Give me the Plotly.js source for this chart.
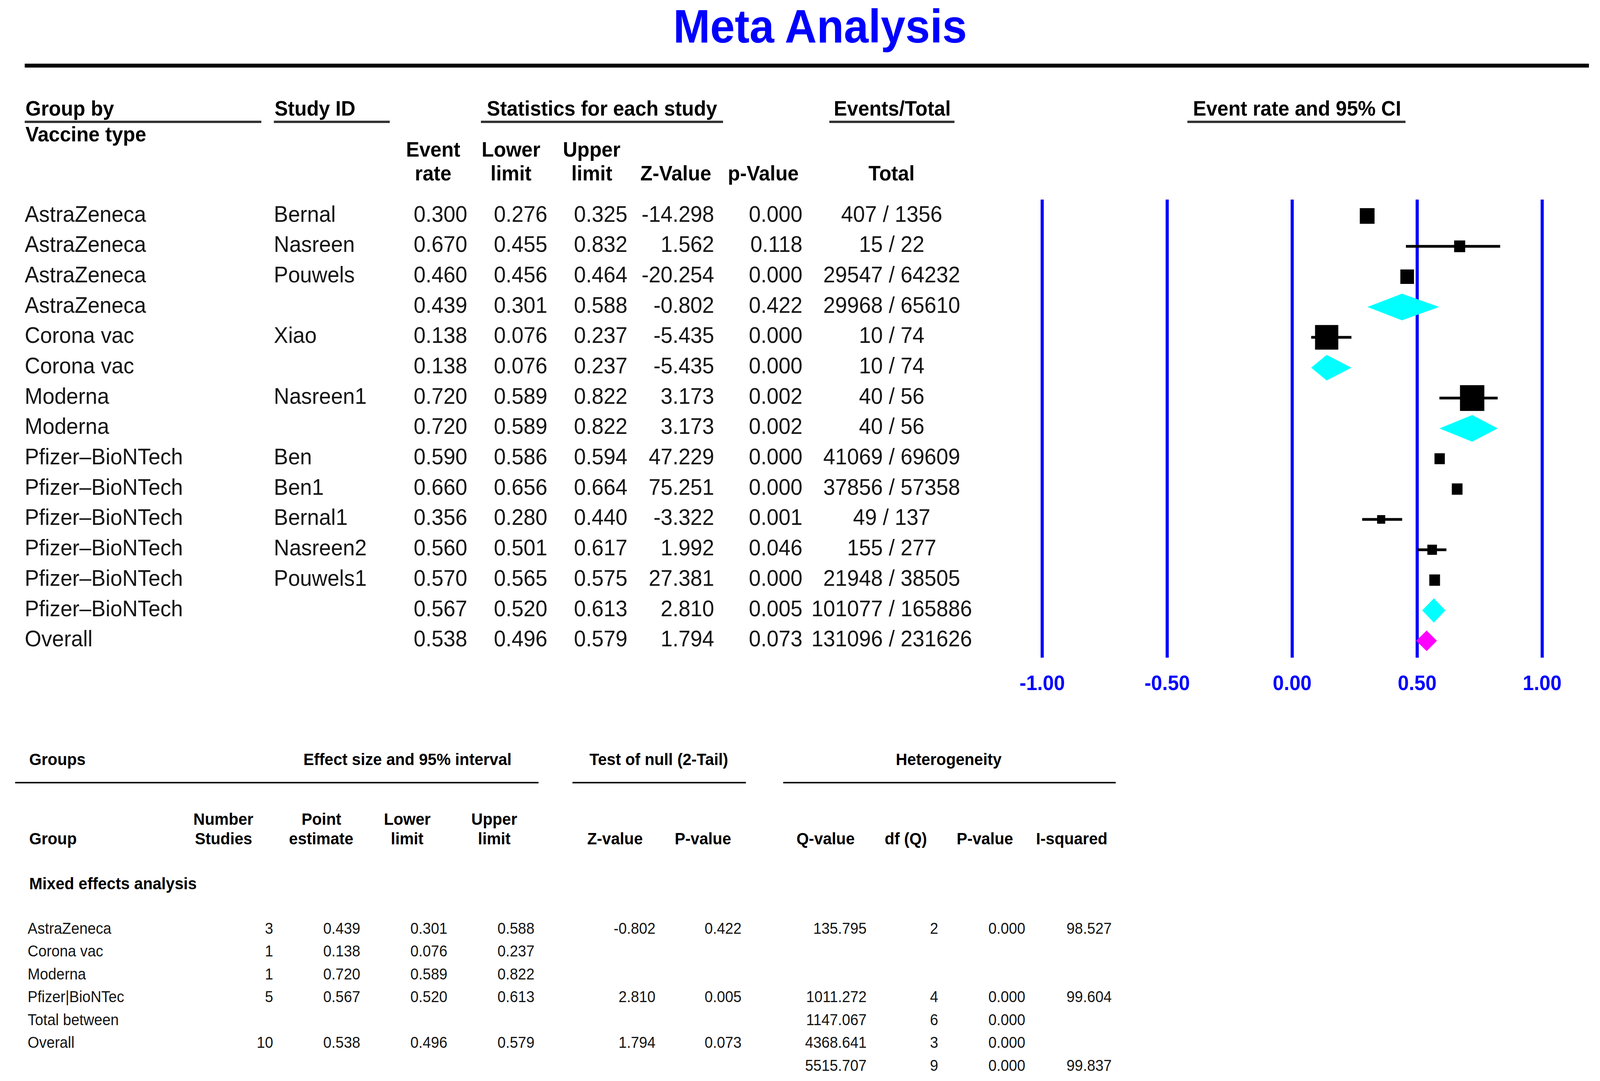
<!DOCTYPE html>
<html>
<head>
<meta charset="utf-8">
<script src="https://cdn.plot.ly/plotly-3.0.1.min.js"></script>
<style>
html,body{margin:0;padding:0;background:#fff;overflow:hidden;}
#wrap{position:absolute;left:0;top:0;width:4335px;height:2768px;transform-origin:0 0;}
</style>
</head>
<body>
<div id="wrap"><div id="chart" style="width:4335px;height:2768px;"></div></div>
<script>
// ---------------- DATA ----------------
const groupNames = ['AstraZeneca','AstraZeneca','AstraZeneca','AstraZeneca','Corona vac','Corona vac','Moderna','Moderna',
  'Pfizer–BioNTech','Pfizer–BioNTech','Pfizer–BioNTech','Pfizer–BioNTech','Pfizer–BioNTech','Pfizer–BioNTech','Overall'];
const studyIds = ['Bernal','Nasreen','Pouwels','','Xiao','','Nasreen1','','Ben','Ben1','Bernal1','Nasreen2','Pouwels1','',''];
const eventRate  = [0.300,0.670,0.460,0.439,0.138,0.138,0.720,0.720,0.590,0.660,0.356,0.560,0.570,0.567,0.538];
const lowerLimit = [0.276,0.455,0.456,0.301,0.076,0.076,0.589,0.589,0.586,0.656,0.280,0.501,0.565,0.520,0.496];
const upperLimit = [0.325,0.832,0.464,0.588,0.237,0.237,0.822,0.822,0.594,0.664,0.440,0.617,0.575,0.613,0.579];
const zValue     = [-14.298,1.562,-20.254,-0.802,-5.435,-5.435,3.173,3.173,47.229,75.251,-3.322,1.992,27.381,2.810,1.794];
const pValue     = [0.000,0.118,0.000,0.422,0.000,0.000,0.002,0.002,0.000,0.000,0.001,0.046,0.000,0.005,0.073];
const events     = [407,15,29547,29968,10,10,40,40,41069,37856,49,155,21948,101077,131096];
const totals     = [1356,22,64232,65610,74,74,56,56,69609,57358,137,277,38505,165886,231626];
const rowKind    = ['study','study','study','sub','study','sub','study','sub','study','study','study','study','study','sub','overall'];
const xTickVals  = [-1, -0.5, 0, 0.5, 1];

// Summary table (bottom)
const sumGroups  = ['AstraZeneca','Corona vac','Moderna','Pfizer|BioNTec','Total between','Overall',''];
const sumN       = [3,1,1,5,null,10,null];
const sumPoint   = [0.439,0.138,0.720,0.567,null,0.538,null];
const sumLower   = [0.301,0.076,0.589,0.520,null,0.496,null];
const sumUpper   = [0.588,0.237,0.822,0.613,null,0.579,null];
const sumZ       = [-0.802,null,null,2.810,null,1.794,null];
const sumP       = [0.422,null,null,0.005,null,0.073,null];
const sumQ       = [135.795,null,null,1011.272,1147.067,4368.641,5515.707];
const sumDf      = [2,null,null,4,6,3,9];
const sumQP      = [0.000,null,null,0.000,0.000,0.000,0.000];
const sumI2      = [98.527,null,null,99.604,null,null,99.837];

// ---------------- STYLE ----------------
const W = 4335, H = 2768;
const FONT = 'Liberation Sans, Arial, sans-serif';
const BLUE = '#0000ff';
const TXT = '#141414';
const squareSize = [40,30,37,null,63,null,66,null,28,29,22,26,29,null,null];   // marker side (px)
const diamondHalf = [null,null,null,0.44,null,0.42,null,0.44,null,null,null,null,null,0.40,0.34]; // row units
const px = v => v / W;
const py = v => 1 - v / H;

// fit the 4335-wide drawing into the actual viewport width
const sx = Math.min(1, (window.innerWidth || W) / W);
const sy = Math.min(1, (window.innerHeight || H) / H);
document.getElementById('wrap').style.transform = 'scale(' + sx + ',' + sy + ')';

const rows = eventRate.map((_, i) => i);
const f3 = v => (v === null || v === undefined) ? '' : v.toFixed(3);

const traces = [];

// CI lines for individual studies
const ciX = [], ciY = [];
rows.forEach(i => { if (rowKind[i] === 'study') { ciX.push(lowerLimit[i], upperLimit[i], null); ciY.push(i, i, null); } });
traces.push({type:'scatter', mode:'lines', x:ciX, y:ciY, line:{color:'#000', width:7}, hoverinfo:'skip', showlegend:false, xaxis:'x', yaxis:'y'});

// Study squares
const st = rows.filter(i => rowKind[i] === 'study');
traces.push({type:'scatter', mode:'markers', x:st.map(i => eventRate[i]), y:st,
  marker:{symbol:'square', size:st.map(i => squareSize[i]), color:'#000', opacity:1, line:{width:0}},
  hoverinfo:'skip', showlegend:false, xaxis:'x', yaxis:'y'});

// Diamonds (subgroup and overall summaries)
function diamonds(kind, color) {
  const dx = [], dy = [];
  rows.filter(i => rowKind[i] === kind).forEach(i => {
    const h = diamondHalf[i];
    dx.push(lowerLimit[i], eventRate[i], upperLimit[i], eventRate[i], lowerLimit[i], null);
    dy.push(i, i - h, i, i + h, i, null);
  });
  return {type:'scatter', mode:'lines', x:dx, y:dy, fill:'toself', fillcolor:color,
    line:{width:0, color:color}, hoverinfo:'skip', showlegend:false, xaxis:'x', yaxis:'y'};
}
traces.push(diamonds('sub', '#00ffff'));
traces.push(diamonds('overall', '#ff00ff'));

// Text columns
function col(xpx, texts, pos, axX, axY, ys, size) {
  return {type:'scatter', mode:'text', x:texts.map(() => xpx), y:ys, text:texts, textposition:pos,
    textfont:{family:FONT, size:size, color:TXT}, marker:{size:1}, cliponaxis:false,
    hoverinfo:'skip', showlegend:false, xaxis:axX, yaxis:axY};
}
traces.push(col(67,  groupNames, 'middle right', 'x2', 'y', rows, 58));
traces.push(col(742, studyIds, 'middle right', 'x2', 'y', rows, 58));
traces.push(col(1266, eventRate.map(f3), 'middle left', 'x2', 'y', rows, 58));
traces.push(col(1483, lowerLimit.map(f3), 'middle left', 'x2', 'y', rows, 58));
traces.push(col(1700, upperLimit.map(f3), 'middle left', 'x2', 'y', rows, 58));
traces.push(col(1935, zValue.map(f3), 'middle left', 'x2', 'y', rows, 58));
traces.push(col(2174, pValue.map(f3), 'middle left', 'x2', 'y', rows, 58));
traces.push(col(2416, rows.map(i => events[i] + ' / ' + totals[i]), 'middle center', 'x2', 'y', rows, 58));

const rows7 = sumGroups.map((_, i) => i);
const fi = v => (v === null) ? '' : String(v);
traces.push(col(75,   sumGroups, 'middle right', 'x3', 'y3', rows7, 40));
traces.push(col(740,  sumN.map(fi), 'middle left', 'x3', 'y3', rows7, 40));
traces.push(col(976,  sumPoint.map(f3), 'middle left', 'x3', 'y3', rows7, 40));
traces.push(col(1212, sumLower.map(f3), 'middle left', 'x3', 'y3', rows7, 40));
traces.push(col(1448, sumUpper.map(f3), 'middle left', 'x3', 'y3', rows7, 40));
traces.push(col(1776, sumZ.map(f3), 'middle left', 'x3', 'y3', rows7, 40));
traces.push(col(2009, sumP.map(f3), 'middle left', 'x3', 'y3', rows7, 40));
traces.push(col(2348, sumQ.map(f3), 'middle left', 'x3', 'y3', rows7, 40));
traces.push(col(2542, sumDf.map(fi), 'middle left', 'x3', 'y3', rows7, 40));
traces.push(col(2778, sumQP.map(f3), 'middle left', 'x3', 'y3', rows7, 40));
traces.push(col(3012, sumI2.map(f3), 'middle left', 'x3', 'y3', rows7, 40));

// ---------------- ANNOTATIONS (headers) ----------------
const ann = [];
function A(text, x, y, anchor, size, bold) {
  ann.push({text:text, xref:'paper', yref:'paper', x:px(x), y:py(y), xanchor:anchor, yanchor:'middle',
    showarrow:false, font:{family:FONT, size:size, color:'#000', weight: bold ? 700 : 400}});
}
A('Group by', 67, 277, 'left', 54, true);
A('Vaccine type', 67, 343, 'left', 54, true);
A('Study ID', 742, 277, 'left', 54, true);
A('Statistics for each study', 1631, 277, 'center', 54, true);
A('Events/Total', 2417, 277, 'center', 54, true);
A('Event rate and 95% CI', 3514, 277, 'center', 54, true);
A('Event', 1173, 382, 'center', 54, true);  A('rate', 1173, 443, 'center', 54, true);
A('Lower', 1384, 382, 'center', 54, true);  A('limit', 1384, 443, 'center', 54, true);
A('Upper', 1603, 382, 'center', 54, true);  A('limit', 1603, 443, 'center', 54, true);
A('Z-Value', 1831, 443, 'center', 54, true);
A('p-Value', 2068, 443, 'center', 54, true);
A('Total', 2415, 443, 'center', 54, true);

A('Groups', 77, 1944, 'left', 43, true);
A('Effect size and 95% interval', 1104, 1944, 'center', 43, true);
A('Test of null (2-Tail)', 1785, 1944, 'center', 43, true);
A('Heterogeneity', 2570, 1944, 'center', 43, true);
A('Number', 605, 2097, 'center', 43, true); A('Studies', 605, 2147, 'center', 43, true);
A('Point', 870, 2097, 'center', 43, true);  A('estimate', 870, 2147, 'center', 43, true);
A('Lower', 1103, 2097, 'center', 43, true); A('limit', 1103, 2147, 'center', 43, true);
A('Upper', 1339, 2097, 'center', 43, true); A('limit', 1339, 2147, 'center', 43, true);
A('Group', 77, 2147, 'left', 43, true);
A('Z-value', 1666, 2147, 'center', 43, true);
A('P-value', 1904, 2147, 'center', 43, true);
A('Q-value', 2237, 2147, 'center', 43, true);
A('df (Q)', 2454, 2147, 'center', 43, true);
A('P-value', 2668, 2147, 'center', 43, true);
A('I-squared', 2904, 2147, 'center', 43, true);
A('Mixed effects analysis', 77, 2262, 'left', 43, true);

// ---------------- SHAPES (rules) ----------------
const shapes = [];
function L(x0, x1, y, w, c) {
  shapes.push({type:'line', xref:'paper', yref:'paper', x0:px(x0), x1:px(x1), y0:py(y), y1:py(y), line:{color:c, width:w}});
}
L(67, 4305, 168, 10, '#000');
L(67, 708, 312, 6, '#333');
L(742, 1056, 312, 6, '#333');
L(1303, 1959, 312, 6, '#333');
L(2247, 2586, 312, 6, '#333');
L(3217, 3808, 312, 6, '#333');
L(41, 1459, 2004, 4, '#111');
L(1551, 2021, 2004, 4, '#111');
L(2122, 3023, 2004, 4, '#111');

// ---------------- LAYOUT ----------------
const rowTop = 553, rowStep = 77.7;
const yTopPx = 511, yBotPx = 1684;
const sumTop = 2381, sumStep = 58.5, sumDomTop = 2325;

const layout = {
  width: W, height: H, autosize: false,
  margin: {l:0, r:0, t:0, b:0, pad:0},
  paper_bgcolor: '#ffffff', plot_bgcolor: 'rgba(0,0,0,0)',
  showlegend: false,
  title: {text:'Meta Analysis', x:px(2222), xanchor:'center', y:py(67), yanchor:'middle', yref:'container',
    font:{family:FONT, size:120, color:BLUE, weight:700}},
  xaxis: {domain:[px(2756), px(4246)], range:[-1.1, 1.1], anchor:'y',
    tickvals:xTickVals, ticktext:xTickVals.map(v => v.toFixed(2)),
    showgrid:true, gridcolor:BLUE, gridwidth:8, zeroline:false, showline:false,
    ticks:'', ticklabelstandoff:28,
    tickfont:{family:FONT, size:54, color:BLUE, weight:700}, fixedrange:true},
  yaxis: {domain:[py(yBotPx), py(yTopPx)], anchor:'x',
    range:[(yBotPx - rowTop) / rowStep, (yTopPx - rowTop) / rowStep],
    visible:false, showgrid:false, zeroline:false, fixedrange:true},
  xaxis2: {domain:[0, 0.62], range:[0, 0.62 * W], anchor:'y', visible:false, showgrid:false, zeroline:false},
  xaxis3: {domain:[0, 1], range:[0, W], anchor:'y3', visible:false, showgrid:false, zeroline:false},
  yaxis3: {domain:[0, py(sumDomTop)], anchor:'x3',
    range:[(H - sumTop) / sumStep, (sumDomTop - sumTop) / sumStep],
    visible:false, showgrid:false, zeroline:false},
  annotations: ann,
  shapes: shapes
};

Plotly.newPlot('chart', traces, layout, {staticPlot:true, displayModeBar:false});
</script>
</body>
</html>
